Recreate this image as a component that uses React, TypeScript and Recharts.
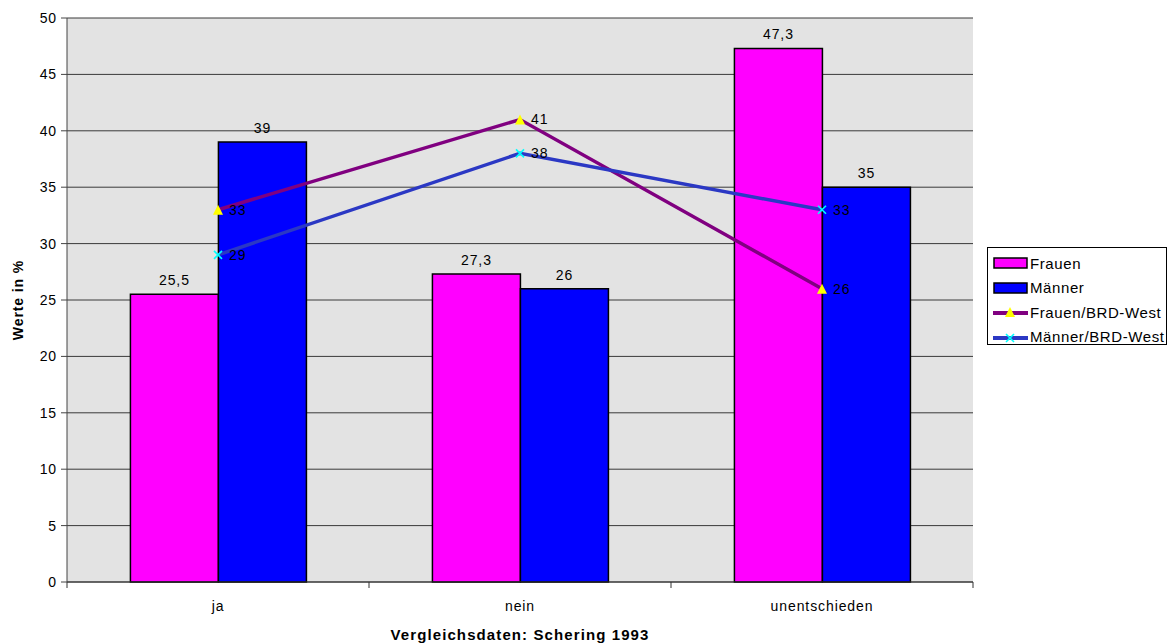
import React from "react";
import {
  ComposedChart,
  Bar,
  Line,
  XAxis,
  YAxis,
  CartesianGrid,
  LabelList,
  Legend,
  Label,
} from "recharts";

const categories = ["ja", "nein", "unentschieden"];
const frauen = [25.5, 27.3, 47.3];
const maenner = [39, 26, 35];
const frauenWest = [33, 41, 26];
const maennerWest = [29, 38, 33];
const yTicks = [0, 5, 10, 15, 20, 25, 30, 35, 40, 45, 50];

const data = categories.map((cat, i) => ({
  cat,
  frauen: frauen[i],
  maenner: maenner[i],
  frauenWest: frauenWest[i],
  maennerWest: maennerWest[i],
}));

const FONT = "'Liberation Sans', Arial, sans-serif";
const PINK = "#FF00FF";
const BLUE = "#0000FF";
const PURPLE = "#800080";
const LBLUE = "#2B38C4";
const YELLOW = "#FFFF00";
const CYAN = "#00FFFF";
const LS = 0.9;
const TICK_MARGIN = 19;

const textStyle = { fill: "#000", fontSize: 14, fontFamily: FONT, letterSpacing: LS };

const fmt = (v: any) => String(v).replace(".", ",");

const Triangle = (props: any) => {
  const { cx, cy } = props;
  if (cx == null || cy == null) return null;
  return (
    <polygon
      points={`${cx},${cy - 5} ${cx + 5},${cy + 5} ${cx - 5},${cy + 5}`}
      fill={YELLOW}
    />
  );
};

const Cross = (props: any) => {
  const { cx, cy } = props;
  if (cx == null || cy == null) return null;
  const s = 4;
  return (
    <g stroke={CYAN} strokeWidth={1.6}>
      <line x1={cx - s} y1={cy - s} x2={cx + s} y2={cy + s} />
      <line x1={cx - s} y1={cy + s} x2={cx + s} y2={cy - s} />
    </g>
  );
};

const CatTick = (props: any) => {
  const { x, y, payload, index } = props;
  const half = payload && payload.offset ? payload.offset : 0;
  const axisY = y - TICK_MARGIN;
  return (
    <g>
      {index === 0 && half > 0 && (
        <line x1={x - half} y1={axisY} x2={x - half} y2={axisY + 6} stroke="#333" />
      )}
      {half > 0 && <line x1={x + half} y1={axisY} x2={x + half} y2={axisY + 6} stroke="#333" />}
      <text x={x} y={y} dy="0.71em" textAnchor="middle" style={textStyle}>
        {payload.value}
      </text>
    </g>
  );
};

const legendItems = [
  { name: "Frauen", kind: "bar", color: PINK },
  { name: "Männer", kind: "bar", color: BLUE },
  { name: "Frauen/BRD-West", kind: "tri", color: PURPLE },
  { name: "Männer/BRD-West", kind: "x", color: LBLUE },
];

const LegendBox = () => (
  <div
    style={{
      border: "1px solid #000",
      background: "#fff",
      width: 180,
      height: 98,
      boxSizing: "border-box",
      padding: "3px 0 0 5px",
      fontFamily: FONT,
      fontSize: 15,
      letterSpacing: 0.6,
      color: "#000",
      whiteSpace: "nowrap",
    }}
  >
    {legendItems.map((it) => (
      <div key={it.name} style={{ display: "flex", alignItems: "center", height: 24.5 }}>
        <svg width={36} height={14} style={{ marginRight: 1, flex: "none" }}>
          {it.kind === "bar" ? (
            <rect x={1} y={2} width={33} height={10} fill={it.color} stroke="#000" strokeWidth={1.5} />
          ) : (
            <g>
              <line x1={0} y1={8} x2={35} y2={8} stroke={it.color} strokeWidth={4} />
              {it.kind === "tri" ? (
                <polygon points="17,2 22,12 12,12" fill={YELLOW} />
              ) : (
                <g stroke={CYAN} strokeWidth={1.6}>
                  <line x1={13} y1={4} x2={21} y2={12} />
                  <line x1={13} y1={12} x2={21} y2={4} />
                </g>
              )}
            </g>
          )}
        </svg>
        <span>{it.name}</span>
      </div>
    ))}
  </div>
);

export default function App() {
  return (
    <div style={{ position: "absolute", left: 0, top: 0, width: 1173, height: 644, background: "#fff" }}>
      <ComposedChart
        width={1173}
        height={644}
        data={data}
        margin={{ top: 18, right: 200, bottom: 0, left: 0 }}
        barCategoryGap="21%"
        barGap={0}
        style={{ fontFamily: FONT }}
      >
        <CartesianGrid
          horizontal
          vertical={false}
          fill="#E3E3E3"
          fillOpacity={1}
          stroke="#3a3a3a"
          strokeWidth={1}
        />
        <XAxis
          dataKey="cat"
          tickLine={false}
          axisLine={{ stroke: "#333" }}
          tick={<CatTick />}
          tickMargin={TICK_MARGIN}
          tickSize={0}
          height={62}
          interval={0}
        >
          <Label
            value="Vergleichsdaten: Schering 1993"
            position="insideBottom"
            offset={4}
            style={{ fontWeight: "bold", fontSize: 15, fill: "#000", fontFamily: FONT, letterSpacing: 1.1 }}
          />
        </XAxis>
        <YAxis
          domain={[0, 50]}
          ticks={yTicks}
          interval={0}
          width={67}
          tickSize={6}
          tickMargin={4}
          axisLine={{ stroke: "#444" }}
          tickLine={{ stroke: "#444" }}
          tick={textStyle}
        >
          <Label
            value="Werte in %"
            angle={-90}
            position="insideLeft"
            offset={18}
            style={{ fontWeight: "bold", fontSize: 14, fill: "#000", fontFamily: FONT, textAnchor: "middle", letterSpacing: 0.9 }}
          />
        </YAxis>
        <YAxis
          yAxisId="r"
          orientation="right"
          domain={[0, 50]}
          width={0}
          tick={false}
          tickLine={false}
          axisLine={{ stroke: "#555" }}
        />
        <Bar dataKey="frauen" name="Frauen" fill={PINK} stroke="#000" strokeWidth={1.5} isAnimationActive={false}>
          <LabelList dataKey="frauen" position="top" offset={9} formatter={fmt} style={textStyle} />
        </Bar>
        <Bar dataKey="maenner" name="Männer" fill={BLUE} stroke="#000" strokeWidth={1.5} isAnimationActive={false}>
          <LabelList dataKey="maenner" position="top" offset={9} formatter={fmt} style={textStyle} />
        </Bar>
        <Line
          dataKey="frauenWest"
          name="Frauen/BRD-West"
          stroke={PURPLE}
          strokeWidth={3.5}
          dot={<Triangle />}
          activeDot={false}
          isAnimationActive={false}
        >
          <LabelList dataKey="frauenWest" position="right" offset={11} formatter={fmt} style={textStyle} />
        </Line>
        <Line
          dataKey="maennerWest"
          name="Männer/BRD-West"
          stroke={LBLUE}
          strokeWidth={3.5}
          dot={<Cross />}
          activeDot={false}
          isAnimationActive={false}
        >
          <LabelList dataKey="maennerWest" position="right" offset={11} formatter={fmt} style={textStyle} />
        </Line>
        <Legend
          layout="horizontal"
          verticalAlign="middle"
          align="center"
          content={() => <LegendBox />}
          wrapperStyle={{ position: "absolute", left: 987, top: 247, width: 180, height: 98 }}
        />
      </ComposedChart>
    </div>
  );
}
